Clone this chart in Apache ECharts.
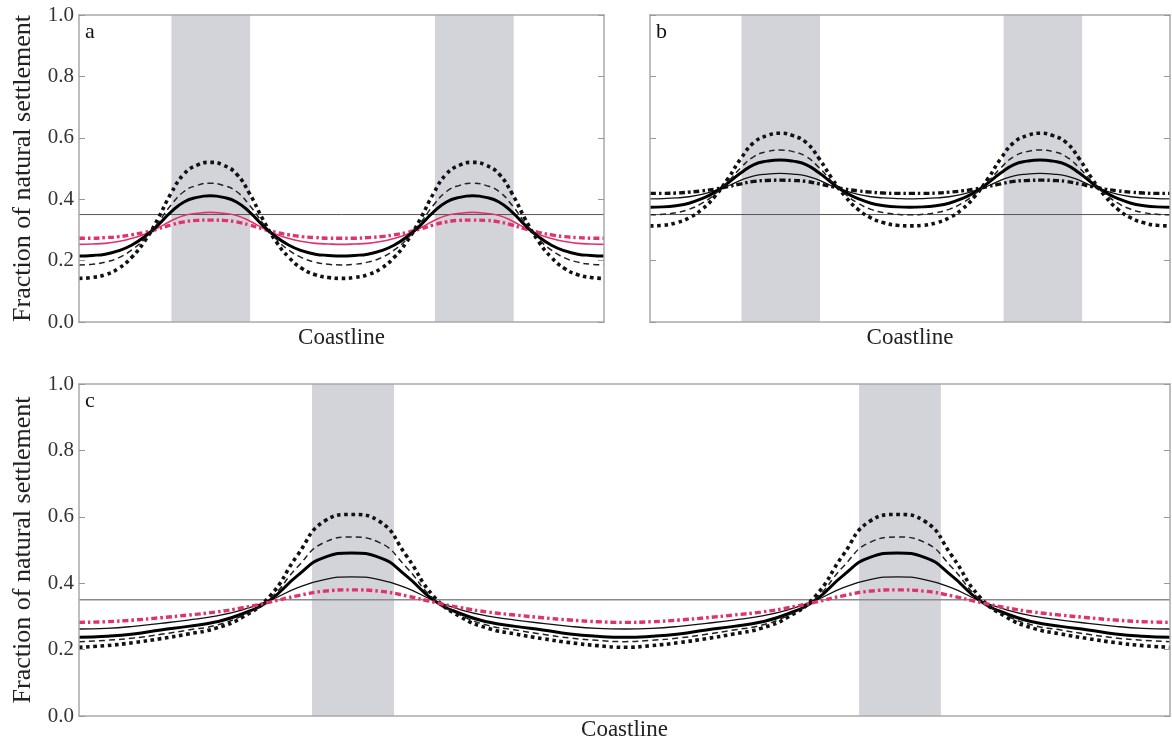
<!DOCTYPE html>
<html>
<head>
<meta charset="utf-8">
<script src="https://cdn.jsdelivr.net/npm/echarts@6/dist/echarts.min.js"></script>
<style>
html,body{margin:0;padding:0;background:#fff;}
#chart{width:1172px;height:742px;}
</style>
</head>
<body>
<div id="chart"></div>
<script>
// ---------- data ----------
const yTicks = [0, 0.2, 0.4, 0.6, 0.8, 1.0];
const refLevel = 0.35;
const panelLetters = ['a', 'b', 'c'];
const yTitle = 'Fraction of natural settlement';
const xTitle = 'Coastline';

// shaded habitat bands (coastline fraction)
const bandsA = [[0.176, 0.326], [0.678, 0.828]];
const bandsB = [[0.176, 0.327], [0.680, 0.831]];
const bandsC = [[0.2136, 0.2888], [0.715, 0.790]];

// sample positions along coastline
const xs = [0,0.025,0.05,0.075,0.1,0.125,0.15,0.175,0.2,0.225,0.25,0.275,0.3,0.325,0.35,0.375,0.4,0.425,0.45,0.475,0.5,0.525,0.55,0.575,0.6,0.625,0.65,0.675,0.7,0.725,0.75,0.775,0.8,0.825,0.85,0.875,0.9,0.925,0.95,0.975,1];

// panel a
const aDotted = [.142,.145,.154,.174,.210,.263,.335,.418,.482,.511,.520,.511,.482,.418,.335,.263,.210,.174,.154,.145,.142,.145,.154,.174,.210,.263,.335,.418,.482,.511,.520,.511,.482,.418,.335,.263,.210,.174,.154,.145,.142];
const aDashed = [.186,.188,.195,.209,.234,.271,.322,.380,.425,.445,.452,.445,.425,.380,.322,.271,.234,.209,.195,.188,.186,.188,.195,.209,.234,.271,.322,.380,.425,.445,.452,.445,.425,.380,.322,.271,.234,.209,.195,.188,.186];
const aThick = [.215,.217,.221,.232,.250,.278,.315,.358,.391,.406,.411,.406,.391,.358,.315,.278,.250,.232,.221,.217,.215,.217,.221,.232,.250,.278,.315,.358,.391,.406,.411,.406,.391,.358,.315,.278,.250,.232,.221,.217,.215];
const aPinkSolid = [.253,.254,.256,.262,.272,.286,.306,.329,.347,.354,.357,.354,.347,.329,.306,.286,.272,.262,.256,.254,.253,.254,.256,.262,.272,.286,.306,.329,.347,.354,.357,.354,.347,.329,.306,.286,.272,.262,.256,.254,.253];
const aPinkDashDot = [.273,.273,.275,.278,.284,.292,.303,.316,.326,.331,.332,.331,.326,.316,.303,.292,.284,.278,.275,.273,.273,.273,.275,.278,.284,.292,.303,.316,.326,.331,.332,.331,.326,.316,.303,.292,.284,.278,.275,.273,.273];

// panel b
const bDotted = [.313,.315,.323,.339,.367,.410,.467,.533,.585,.607,.615,.607,.585,.533,.467,.410,.367,.339,.323,.315,.313,.315,.323,.339,.367,.410,.467,.533,.585,.607,.615,.607,.585,.533,.467,.410,.367,.339,.323,.315,.313];
const bDashed = [.349,.351,.356,.367,.387,.417,.457,.503,.539,.555,.560,.555,.539,.503,.457,.417,.387,.367,.356,.351,.349,.351,.356,.367,.387,.417,.457,.503,.539,.555,.560,.555,.539,.503,.457,.417,.387,.367,.356,.351,.349];
const bThick = [.374,.375,.379,.387,.402,.423,.453,.486,.513,.524,.528,.524,.513,.486,.453,.423,.402,.387,.379,.375,.374,.375,.379,.387,.402,.423,.453,.486,.513,.524,.528,.524,.513,.486,.453,.423,.402,.387,.379,.375,.374];
const bThin = [.401,.402,.404,.408,.416,.428,.443,.462,.476,.482,.484,.482,.476,.462,.443,.428,.416,.408,.404,.402,.401,.402,.404,.408,.416,.428,.443,.462,.476,.482,.484,.482,.476,.462,.443,.428,.416,.408,.404,.402,.401];
const bDashDot = [.419,.419,.420,.423,.427,.433,.441,.450,.458,.461,.462,.461,.458,.450,.441,.433,.427,.423,.420,.419,.419,.419,.420,.423,.427,.433,.441,.450,.458,.461,.462,.461,.458,.450,.441,.433,.427,.423,.420,.419,.419];

// panel c
const cDotted = [.207,.212,.221,.233,.247,.264,.298,.361,.483,.587,.607,.587,.483,.361,.298,.264,.247,.233,.221,.212,.207,.212,.221,.233,.247,.264,.298,.361,.483,.587,.607,.587,.483,.361,.298,.264,.247,.233,.221,.212,.207];
const cDashed = [.224,.228,.235,.246,.259,.273,.303,.353,.448,.523,.539,.523,.448,.353,.303,.273,.259,.246,.235,.228,.224,.228,.235,.246,.259,.273,.303,.353,.448,.523,.539,.523,.448,.353,.303,.273,.259,.246,.235,.228,.224];
const cThick = [.237,.240,.247,.259,.270,.283,.308,.349,.422,.478,.491,.478,.422,.349,.308,.283,.270,.259,.247,.240,.237,.240,.247,.259,.270,.283,.308,.349,.422,.478,.491,.478,.422,.349,.308,.283,.270,.259,.247,.240,.237];
const cThin = [.262,.264,.270,.279,.289,.301,.320,.348,.386,.411,.419,.411,.386,.348,.320,.301,.289,.279,.270,.264,.262,.264,.270,.279,.289,.301,.320,.348,.386,.411,.419,.411,.386,.348,.320,.301,.289,.279,.270,.264,.262];
const cPinkDashDot = [.282,.284,.289,.296,.304,.313,.326,.343,.362,.376,.380,.376,.362,.343,.326,.313,.304,.296,.289,.284,.282,.284,.289,.296,.304,.313,.326,.343,.362,.376,.380,.376,.362,.343,.326,.313,.304,.296,.289,.284,.282];

// ---------- styles ----------
const FONT = 'Liberation Serif';
const PINK = '#e0336d';
const BAND = '#d3d4da';
const FRAME = '#a9a9a9';
const ST = {
  dotted:  {color:'#111', width:3.6, type:[3.6,3.6]},
  dashed:  {color:'#222', width:1.5, type:[6,4]},
  thick:   {color:'#000', width:3},
  thin:    {color:'#111', width:1.3},
  pinkSolid: {color:PINK, width:1.6},
  pinkDashDot: {color:PINK, width:3.4, type:[6,3,2.5,3]},
  blackDashDot: {color:'#111', width:3.4, type:[6,3,2.5,3]},
  ref: {color:'#555', width:1},
  refC: {color:'#8a8a8a', width:1.6}
};

const grids = [
  {left:79, top:15, width:525, height:307},
  {left:650, top:15, width:520, height:307},
  {left:79, top:384, width:1091, height:335}
];

const xAxes = [], yAxes = [], series = [], graphics = [];
grids.forEach((g, gi) => {
  xAxes.push({
    gridIndex:gi, type:'value', min:0, max:1, position:'bottom', z:10,
    name:xTitle, nameLocation:'middle', nameGap: gi===2 ? 2 : 4,
    nameTextStyle:{fontFamily:FONT, fontSize:23, color:'#222', verticalAlign:'top'},
    axisLine:{show:true, onZero:false, lineStyle:{color:FRAME, width:1.5}},
    axisTick:{show:false}, axisLabel:{show:false}, splitLine:{show:false}
  });
  xAxes.push({
    gridIndex:gi, type:'value', min:0, max:1, position:'top', z:10,
    axisLine:{show:true, onZero:false, lineStyle:{color:FRAME, width:1.5}},
    axisTick:{show:false}, axisLabel:{show:false}, splitLine:{show:false}
  });
  const showLab = gi !== 1;
  yAxes.push({
    gridIndex:gi, type:'value', min:yTicks[0], max:yTicks[yTicks.length-1], interval:0.2, position:'left', z:10,
    name: showLab ? yTitle : '', nameLocation:'middle', nameGap:43, nameRotate:90,
    nameTextStyle:{fontFamily:FONT, fontSize:26, color:'#222'},
    axisLine:{show:true, onZero:false, lineStyle:{color:FRAME, width:1.5}},
    axisTick:{show:true, inside:true, length:6, lineStyle:{color:'#999', width:1}},
    axisLabel:{show:showLab, margin:5, fontFamily:FONT, fontSize:21, color:'#333', formatter:v=>v.toFixed(1)},
    splitLine:{show:false}
  });
  yAxes.push({
    gridIndex:gi, type:'value', min:yTicks[0], max:yTicks[yTicks.length-1], interval:0.2, position:'right', z:10,
    axisLine:{show:true, onZero:false, lineStyle:{color:FRAME, width:1.5}},
    axisTick:{show:true, inside:true, length:6, lineStyle:{color:'#999', width:1}},
    axisLabel:{show:false}, splitLine:{show:false}
  });
  graphics.push({
    type:'text', left:g.left + 6, top:g.top + 6,
    style:{text:panelLetters[gi], font:'22px "' + FONT + '"', fill:'#111'}
  });
});

function mkLine(gi, ys, style, z) {
  return {
    type:'line', xAxisIndex:2*gi, yAxisIndex:2*gi, silent:true, animation:false,
    symbol:'none', showSymbol:false, smooth:0.5, z:z || 3,
    lineStyle:style, data: xs.map((x, i) => [x, ys[i]])
  };
}
function mkBands(gi, bands) {
  return {
    type:'line', xAxisIndex:2*gi, yAxisIndex:2*gi, silent:true, animation:false, z:1,
    symbol:'none', data:[],
    markArea:{silent:true, itemStyle:{color:BAND}, data: bands.map(b => [{xAxis:b[0]}, {xAxis:b[1]}])}
  };
}
function mkRef(gi, style) {
  return {
    type:'line', xAxisIndex:2*gi, yAxisIndex:2*gi, silent:true, animation:false, z:2,
    symbol:'none', lineStyle:style, data:[[0, refLevel], [1, refLevel]]
  };
}

// panel a
series.push(mkBands(0, bandsA), mkRef(0, ST.ref));
series.push(mkLine(0, aPinkDashDot, ST.pinkDashDot));
series.push(mkLine(0, aPinkSolid, ST.pinkSolid));
series.push(mkLine(0, aThick, ST.thick));
series.push(mkLine(0, aDashed, ST.dashed));
series.push(mkLine(0, aDotted, ST.dotted));
// panel b
series.push(mkBands(1, bandsB), mkRef(1, ST.ref));
series.push(mkLine(1, bDashDot, ST.blackDashDot));
series.push(mkLine(1, bThin, ST.thin));
series.push(mkLine(1, bThick, ST.thick));
series.push(mkLine(1, bDashed, ST.dashed));
series.push(mkLine(1, bDotted, ST.dotted));
// panel c
series.push(mkBands(2, bandsC), mkRef(2, ST.refC));
series.push(mkLine(2, cThin, ST.thin));
series.push(mkLine(2, cThick, ST.thick));
series.push(mkLine(2, cDashed, ST.dashed));
series.push(mkLine(2, cDotted, ST.dotted));
series.push(mkLine(2, cPinkDashDot, ST.pinkDashDot, 4));

const chart = echarts.init(document.getElementById('chart'), null, {renderer:'canvas'});
chart.setOption({
  backgroundColor:'#fff',
  animation:false,
  grid:grids.map(g => Object.assign({containLabel:false, show:false}, g)),
  xAxis:xAxes,
  yAxis:yAxes,
  series:series,
  graphic:graphics
});
</script>
</body>
</html>
